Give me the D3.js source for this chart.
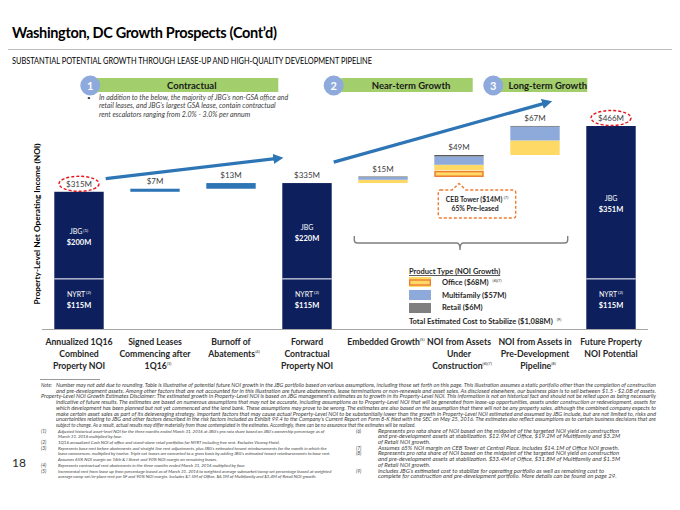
<!DOCTYPE html>
<html><head><meta charset="utf-8">
<script src="https://cdn.jsdelivr.net/npm/d3@7"></script>
<style>
html,body{margin:0;padding:0;background:#fff;}
svg{display:block;font-family:Lato,"Open Sans",sans-serif;}
</style></head>
<body>
<svg id="c" width="680" height="510"></svg>
<script>
// ---------------- DATA ----------------
const categories = [
  ["Annualized 1Q16","Combined","Property NOI"],
  ["Signed Leases","Commencing after","1Q16|(3)"],
  ["Burnoff of","Abatements|(4)"],
  ["Forward","Contractual","Property NOI"],
  ["Embedded Growth|(5)"],
  ["NOI from Assets","Under","Construction|(6)(7)"],
  ["NOI from Assets in","Pre-Development","Pipeline|(8)"],
  ["Future Property","NOI Potential"]
];
const barType = ["total","contract","contract","total","growth","growth","growth","total"];
const jbgValues  = [200, null, null, 220, null, null, null, 351];
const nyrtValues = [115, null, null, 115, null, null, null, 115];
const contractualValues = [null, 7, 13, null, null, null, null, null];
// growth stacks (bottom -> top): CEB office, office, multifamily, retail
const cebOffice   = [null, null, null, null, 0,   14.1, 0,    null];
const officeVals  = [null, null, null, null, 7.5, 12.9, 33.4, null];
const multiVals   = [null, null, null, null, 6.1, 19.2, 31.8, null];
const retailVals  = [null, null, null, null, 1.4, 3.2,  1.5,  null];
const topLabels = ["$315M","$7M","$13M","$335M","$15M","$49M","$67M","$466M"];
const jbgLabels = [["JBG","(1)","$200M"],null,null,["JBG","","$220M"],null,null,null,["JBG","","$351M"]];
const nyrtLabels = [["NYRT","(2)","$115M"],null,null,["NYRT","(2)","$115M"],null,null,null,["NYRT","(2)","$115M"]];
const sectionNums = ["1","2","3"];
const sectionTitles = ["Contractual","Near-term Growth","Long-term Growth"];
const legendItems = [["Office ($68M)","(6)(7)"],["Multifamily ($57M)",""],["Retail ($6M)",""]];
const legendTitle = "Product Type (NOI Growth)";
const legendTotal = ["Total Estimated Cost to Stabilize ($1,088M)","(9)"];
const yDomainMax = 466;

const titleText = "Washington, DC Growth Prospects (Cont\u2019d)";
const subtitleText = "SUBSTANTIAL POTENTIAL GROWTH THROUGH LEASE-UP AND HIGH-QUALITY DEVELOPMENT PIPELINE";
const bulletLines = [
  "In addition to the below, the majority of JBG\u2019s non-GSA office and",
  "retail leases, and JBG\u2019s largest GSA lease, contain contractual",
  "rent escalators ranging from 2.0% - 3.0% per annum"
];
const noteLines = [
  "Number may not add due to rounding. Table is illustrative of potential future NOI growth in the JBG portfolio based on various assumptions, including those set forth on this page. This illustration assumes a static portfolio other than the completion of construction",
  "and pre-development assets. Among other factors that are not accounted for in this illustration are future abatements, lease terminations or non-renewals and asset sales. As disclosed elsewhere, our business plan is to sell between $1.5 - $2.0B of assets.",
  "Property-Level NOI Growth Estimates Disclaimer: The estimated growth in Property-Level NOI is based on JBG management\u2019s estimates as to growth in its Property-Level NOI. This information is not an historical fact and should not be relied upon as being necessarily",
  "indicative of future results. The estimates are based on numerous assumptions that may not be accurate, including assumptions as to Property-Level NOI that will be generated from lease-up opportunities, assets under construction or redevelopment, assets for",
  "which development has been planned but not yet commenced and the land bank. These assumptions may prove to be wrong. The estimates are also based on the assumption that there will not be any property sales, although the combined company expects to",
  "make certain asset sales as part of its deleveraging strategy. Important factors that may cause actual Property-Level NOI to be substantially lower than the growth in Property-Level NOI estimated and assumed by JBG include, but are not limited to, risks and",
  "uncertainties relating to JBG and other factors described in the risk factors included as Exhibit 99.4 to the Company\u2019s Current Report on Form 8-K filed with the SEC on May 25, 2016. The estimates also reflect assumptions as to certain business decisions that are",
  "subject to change. As a result, actual results may differ materially from those contemplated in the estimates. Accordingly, there can be no assurance that the estimates will be realized."
];
const leftFootnotes = [
  ["(1)", ["Adjusted historical asset-level NOI for the three months ended March 31, 2016 at JBG\u2019s pro rata share based on JBG\u2019s ownership percentage as of","March 31, 2016 multiplied by four."]],
  ["(2)", ["1Q16 annualized Cash NOI of office and stand-alone retail portfolios for NYRT including free rent. Excludes Viceroy Hotel."]],
  ["(3)", ["Represents base rent before abatements and straight line rent adjustments, plus JBG\u2019s estimated tenant reimbursements for the month in which the","lease commences, multiplied by twelve. Triple net leases are converted to a gross basis by adding JBG\u2019s estimated tenant reimbursements to base rent.","Assumes 65% NOI margin on 16th & I Street and 90% NOI margin on remaining leases."]],
  ["(4)", ["Represents contractual rent abatements in the three months ended March 31, 2016 multiplied by four."]],
  ["(5)", ["Incremental rent from lease up from percentage leased as of March 31, 2016 to weighted average submarket/comp set percentage leased at weighted","average comp set/in-place rent per SF and 90% NOI margin. Includes $7.5M of Office, $6.1M of Multifamily and $1.4M of Retail NOI growth."]]
];
const rightFootnotes = [
  ["(6)", ["Represents pro rata share of NOI based on the midpoint of the targeted NOI yield on construction","and pre-development assets at stabilization. $12.9M of Office, $19.2M of Multifamily and $3.2M","of Retail NOI growth."]],
  ["(7)", ["Assumes 65% NOI margin on CEB Tower at Central Place. Includes $14.1M of Office NOI growth."]],
  ["(8)", ["Represents pro rata share of NOI based on the midpoint of the targeted NOI yield on construction","and pre-development assets at stabilization. $33.4M of Office, $31.8M of Multifamily and $1.5M","of Retail NOI growth."]],
  ["(9)", ["Includes JBG\u2019s estimated cost to stabilize for operating portfolio as well as remaining cost to","complete for construction and pre-development portfolio. More details can be found on page 29."]]
];
const pageNumber = "18";

// ---------------- STYLE ----------------
const NAVY = "#0d1f5c", MIDBLUE = "#2e75b6", LBLUE = "#8eaadb", YELLOW = "#ffd966",
      GRAY = "#595959", ORANGE = "#ed7d31", GREEN = "#a2cf6b", CIRCLE = "#8ea9db";

const svg = d3.select("#c");
const x = d3.scaleBand().domain(d3.range(categories.length)).range([41, 649]).paddingInner(0.35).paddingOuter(0.175);
const y = d3.scaleLinear().domain([0, yDomainMax]).range([329, 126]);
const bw = x.bandwidth();

// ---------------- HEADER ----------------
svg.append("text").attr("x", 12).attr("y", 38).attr("font-size", 14.5).attr("font-weight", 700)
  .attr("fill", "#000").attr("textLength", 265).attr("lengthAdjust", "spacing").text(titleText);
svg.append("line").attr("x1", 8).attr("x2", 672).attr("y1", 49.5).attr("y2", 49.5).attr("stroke", "#bfbfbf").attr("stroke-width", 1);
svg.append("text").attr("x", 12).attr("y", 64).attr("font-size", 9.3).attr("fill", "#000")
  .attr("textLength", 360).attr("lengthAdjust", "spacingAndGlyphs").text(subtitleText);

// section pills
const pillGeom = [
  {cx: x(0) + 36, x0: x(0) + 43, x1: x(3) - 4},
  {cx: x(3) + bw + 2, x0: x(4) - 17, x1: x(5) + bw - 11},
  {cx: x(6) - 17, x0: x(6) - 10, x1: x(7) + 1}
];
sectionTitles.forEach((t, i) => {
  const g = pillGeom[i];
  svg.append("rect").attr("x", g.x0).attr("y", 78).attr("width", g.x1 - g.x0).attr("height", 14).attr("fill", GREEN);
  svg.append("circle").attr("cx", g.cx).attr("cy", 85.5).attr("r", 10).attr("fill", CIRCLE);
  svg.append("text").attr("x", g.cx).attr("y", 89.5).attr("text-anchor", "middle").attr("font-size", 11)
    .attr("font-weight", 700).attr("fill", "#fff").text(sectionNums[i]);
  svg.append("text").attr("x", (g.x0 + g.x1) / 2 + 4).attr("y", 89).attr("text-anchor", "middle").attr("font-size", 9.5)
    .attr("font-weight", 700).attr("fill", "#1a1a1a").text(t);
});

// bullet text
svg.append("text").attr("x", 87).attr("y", 100).attr("font-size", 6.5).attr("fill", "#404040").text("\u2022");
bulletLines.forEach((l, i) => {
  svg.append("text").attr("x", 99).attr("y", 100 + i * 8.4).attr("font-size", 7).attr("font-style", "italic")
    .attr("fill", "#404040").text(l);
});

// y-axis title
svg.append("text").attr("transform", "translate(40,224) rotate(-90)").attr("text-anchor", "middle")
  .attr("font-size", 8.3).attr("font-weight", 700).attr("fill", "#000").text("Property-Level Net Operating Income (NOI)");

// ---------------- BARS ----------------
let running = 0;
const bars = svg.append("g");
categories.forEach((c, i) => {
  const x0 = x(i);
  if (barType[i] === "total") {
    const nyrt = nyrtValues[i], jbg = jbgValues[i];
    running = nyrt + jbg;
    bars.append("rect").attr("x", x0).attr("width", bw).attr("y", y(nyrt)).attr("height", y(0) - y(nyrt)).attr("fill", NAVY);
    bars.append("rect").attr("x", x0).attr("width", bw).attr("y", y(nyrt + jbg)).attr("height", y(nyrt) - y(nyrt + jbg)).attr("fill", NAVY);
    bars.append("line").attr("x1", x0).attr("x2", x0 + bw).attr("y1", y(nyrt)).attr("y2", y(nyrt)).attr("stroke", "#fff").attr("stroke-width", 1);
  } else if (barType[i] === "contract") {
    const v = contractualValues[i];
    bars.append("rect").attr("x", x0).attr("width", bw).attr("y", y(running + v)).attr("height", y(running) - y(running + v)).attr("fill", MIDBLUE);
    running += v;
  } else {
    let base = running;
    const segs = [[cebOffice[i], "ceb"], [officeVals[i], YELLOW], [multiVals[i], LBLUE], [retailVals[i], GRAY]];
    segs.forEach(([v, col]) => {
      if (!v) return;
      if (col === "ceb") {
        bars.append("rect").attr("x", x0 + 0.75).attr("width", bw - 1.5).attr("y", y(base + v) + 1.2).attr("height", y(base) - y(base + v) - 1.5)
          .attr("fill", YELLOW).attr("stroke", ORANGE).attr("stroke-width", 1.5);
      } else {
        bars.append("rect").attr("x", x0).attr("width", bw).attr("y", y(base + v)).attr("height", y(base) - y(base + v)).attr("fill", col);
      }
      base += v;
    });
    running = base;
  }
});

// top labels
let run2 = 0;
const topVals = categories.map((c, i) => {
  if (barType[i] === "total") run2 = nyrtValues[i] + jbgValues[i];
  else if (barType[i] === "contract") run2 += contractualValues[i];
  else run2 += (cebOffice[i] || 0) + officeVals[i] + multiVals[i] + retailVals[i];
  return run2;
});
topLabels.forEach((t, i) => {
  svg.append("text").attr("x", x(i) + bw / 2).attr("y", y(topVals[i]) - 5).attr("text-anchor", "middle")
    .attr("font-size", 8).attr("fill", "#404040").text(t);
});
// dashed ellipses on first and last totals
[0, 7].forEach(i => {
  svg.append("ellipse").attr("cx", x(i) + bw / 2).attr("cy", y(topVals[i]) - 8).attr("rx", 20).attr("ry", 7.5)
    .attr("fill", "none").attr("stroke", "#e8141b").attr("stroke-width", 1.4).attr("stroke-dasharray", "3,2");
});

// inside labels
function inside(lbl, i, yy) {
  if (!lbl) return;
  const t = svg.append("text").attr("x", x(i) + bw / 2).attr("y", yy).attr("text-anchor", "middle")
    .attr("font-size", 7).attr("fill", "#fff");
  t.append("tspan").text(lbl[0]);
  if (lbl[1]) t.append("tspan").attr("font-size", 4.5).attr("dy", -2.5).attr("dx", 1).text(lbl[1]);
  svg.append("text").attr("x", x(i) + bw / 2).attr("y", yy + 11).attr("text-anchor", "middle")
    .attr("font-size", 7.5).attr("font-weight", 700).attr("fill", "#fff").text(lbl[2]);
}
categories.forEach((c, i) => {
  if (barType[i] !== "total") return;
  const nyrt = nyrtValues[i], jbg = jbgValues[i];
  inside(jbgLabels[i], i, (y(nyrt) + y(nyrt + jbg)) / 2 - 1);
  inside(nyrtLabels[i], i, y(nyrt) + 18);
});

// baseline
svg.append("line").attr("x1", 42).attr("x2", 648).attr("y1", y(0) + 0.5).attr("y2", y(0) + 0.5).attr("stroke", "#a6a6a6").attr("stroke-width", 1.2);

// category labels
categories.forEach((lines, i) => {
  lines.forEach((l, j) => {
    const [main, sup] = l.split("|");
    const t = svg.append("text").attr("x", x(i) + bw / 2 + (sup ? 3 : 0)).attr("y", 345 + j * 12).attr("text-anchor", "middle")
      .attr("font-size", 8.7).attr("font-weight", 700).attr("fill", "#262626");
    t.append("tspan").text(main);
    if (sup) t.append("tspan").attr("font-size", 4.2).attr("font-weight", 400).attr("dy", -4).text(sup);
  });
});

// ---------------- ARROWS ----------------
const defs = svg.append("defs");
defs.append("marker").attr("id", "ah").attr("viewBox", "0 0 10 10").attr("refX", 2).attr("refY", 5)
  .attr("markerWidth", 3.2).attr("markerHeight", 3.2).attr("orient", "auto")
  .append("path").attr("d", "M0,0L10,5L0,10Z").attr("fill", MIDBLUE);
const arrows = [
  [x(0) + bw + 2, y(345), x(3) - 7, y(391)],
  [x(3) + bw + 2, y(383), x(7) - 42, y(518)]
];
arrows.forEach(a => {
  svg.append("line").attr("x1", a[0]).attr("y1", a[1]).attr("x2", a[2]).attr("y2", a[3])
    .attr("stroke", MIDBLUE).attr("stroke-width", 3.2).attr("marker-end", "url(#ah)");
});

// ---------------- CEB CALLOUT ----------------
{
  const cx = x(5) + bw / 2;
  const bx0 = x(5) + 4, bx1 = x(5) + bw + 32, by0 = 190, by1 = 218, r = 2;
  const p = d3.path();
  p.moveTo(bx0 + r, by0);
  p.lineTo(cx - 7, by0); p.lineTo(cx, y(topVals[4]) + 8 - 1); p.lineTo(cx + 7, by0);
  p.lineTo(bx1 - r, by0); p.quadraticCurveTo(bx1, by0, bx1, by0 + r);
  p.lineTo(bx1, by1 - r); p.quadraticCurveTo(bx1, by1, bx1 - r, by1);
  p.lineTo(bx0 + r, by1); p.quadraticCurveTo(bx0, by1, bx0, by1 - r);
  p.lineTo(bx0, by0 + r); p.quadraticCurveTo(bx0, by0, bx0 + r, by0);
  svg.append("path").attr("d", p.toString()).attr("fill", "#fff").attr("stroke", ORANGE)
    .attr("stroke-width", 1.4).attr("stroke-dasharray", "3,2");
  const mx = (bx0 + bx1) / 2;
  const t = svg.append("text").attr("x", mx).attr("y", 202).attr("text-anchor", "middle").attr("font-size", 6.8).attr("font-weight", 700).attr("fill", "#262626");
  t.append("tspan").text("CEB Tower ($14M)");
  t.append("tspan").attr("font-size", 4).attr("font-weight", 400).attr("dy", -3).attr("dx", 1.5).text("(7)");
  svg.append("text").attr("x", mx - 2).attr("y", 211).attr("text-anchor", "middle").attr("font-size", 6.8).attr("font-weight", 700).attr("fill", "#262626").text("65% Pre-leased");
}

// ---------------- BRACKET ----------------
{
  const xl = x(4) - 4, xr = x(6) + bw + 8, xm = x(5) + bw / 2 + 1, yt = 236, yh = 243, yb = 250;
  const p = d3.path();
  p.moveTo(xl, yt); p.lineTo(xl, yh - 3); p.quadraticCurveTo(xl, yh, xl + 3, yh);
  p.lineTo(xm - 3, yh); p.quadraticCurveTo(xm, yh, xm, yb);
  p.quadraticCurveTo(xm, yh, xm + 3, yh); p.lineTo(xr - 3, yh);
  p.quadraticCurveTo(xr, yh, xr, yh - 3); p.lineTo(xr, yt);
  svg.append("path").attr("d", p.toString()).attr("fill", "none").attr("stroke", "#7f7f7f").attr("stroke-width", 1.4);
}

// ---------------- LEGEND ----------------
{
  const lx = 409;
  svg.append("text").attr("x", lx).attr("y", 274).attr("font-size", 7.5).attr("font-weight", 700).attr("fill", "#262626")
    .attr("text-decoration", "underline").text(legendTitle);
  const sw = [
    g => { g.append("rect").attr("x", lx).attr("y", 277).attr("width", 22).attr("height", 10).attr("fill", YELLOW);
           g.append("rect").attr("x", lx + 0.7).attr("y", 280).attr("width", 20.6).attr("height", 5).attr("fill", YELLOW).attr("stroke", ORANGE).attr("stroke-width", 1.4); },
    g => { g.append("rect").attr("x", lx).attr("y", 290).attr("width", 22).attr("height", 10).attr("fill", LBLUE); },
    g => { g.append("rect").attr("x", lx).attr("y", 303).attr("width", 22).attr("height", 10).attr("fill", "#7f7f7f"); }
  ];
  legendItems.forEach((it, i) => {
    sw[i](svg.append("g"));
    const t = svg.append("text").attr("x", lx + 33).attr("y", 285 + i * 12.7).attr("font-size", 7.5).attr("font-weight", 700).attr("fill", "#262626");
    t.append("tspan").text(it[0]);
    if (it[1]) t.append("tspan").attr("font-size", 4).attr("font-weight", 400).attr("dy", -3).attr("dx", 4).text(it[1]);
  });
  const t = svg.append("text").attr("x", lx).attr("y", 324).attr("font-size", 7.5).attr("font-weight", 700).attr("fill", "#262626");
  t.append("tspan").text(legendTotal[0]);
  t.append("tspan").attr("font-size", 4).attr("font-weight", 400).attr("dy", -3).attr("dx", 4).text(legendTotal[1]);
}

// ---------------- NOTES ----------------
{
  const fs = 4.8, lh = 5.7, ny0 = 387;
  const NC = "#404040";
  svg.append("line").attr("x1", 40).attr("x2", 100).attr("y1", 379.5).attr("y2", 379.5).attr("stroke", "#7f7f7f").attr("stroke-width", 0.8);
  svg.append("text").attr("x", 41).attr("y", ny0).attr("font-size", fs).attr("font-style", "italic").attr("fill", NC).text("Note:");
  noteLines.forEach((l, i) => {
    const xx = i === 2 ? 41 : 56;
    const full = i < noteLines.length - 1;
    const t = svg.append("text").attr("x", xx).attr("y", ny0 + i * lh).attr("font-size", fs).attr("font-style", "italic").attr("fill", NC).text(l);
    if (full) t.attr("textLength", 656 - xx).attr("lengthAdjust", "spacingAndGlyphs");
  });
  // footnote columns: font size fitted so the longest line spans the column width
  function column(list, xn, xt, maxW) {
    const probe = svg.append("text").attr("font-size", 10).attr("font-style", "italic");
    let longest = 0;
    list.forEach(([n, ls]) => ls.forEach(l => { probe.text(l); longest = Math.max(longest, probe.node().getComputedTextLength()); }));
    probe.remove();
    const cfs = Math.min(6, 10 * maxW / longest);
    let yy = ny0 + noteLines.length * lh;
    list.forEach(([n, ls]) => {
      svg.append("text").attr("x", xn).attr("y", yy).attr("font-size", fs).attr("font-style", "italic").attr("fill", NC).text(n);
      ls.forEach(l => {
        svg.append("text").attr("x", xt).attr("y", yy).attr("font-size", cfs).attr("font-style", "italic").attr("fill", NC).text(l);
        yy += lh;
      });
    });
  }
  column(leftFootnotes, 41, 58, 274);
  column(rightFootnotes, 356, 378, 278);
  svg.append("text").attr("x", 12).attr("y", 467).attr("font-size", 12).attr("fill", "#262626").text(pageNumber);
}
</script>
</body></html>
